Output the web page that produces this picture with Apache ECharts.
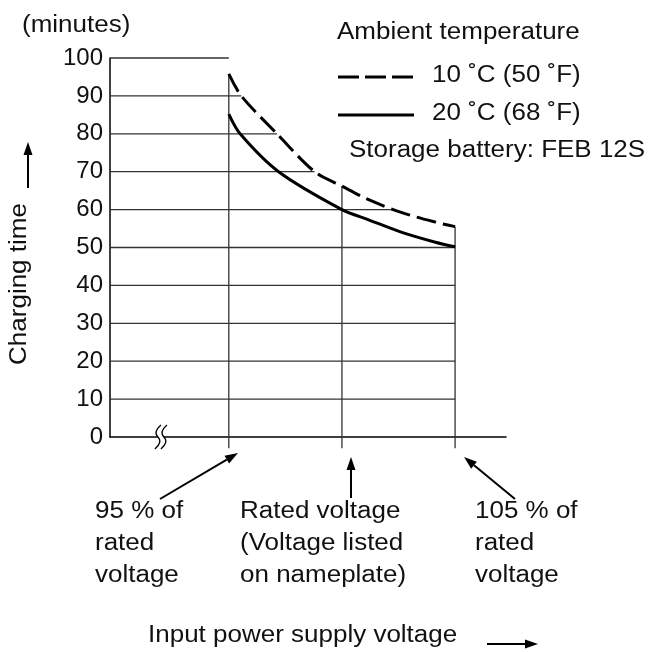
<!DOCTYPE html>
<html><head><meta charset="utf-8">
<script src="https://cdn.jsdelivr.net/npm/echarts@6/dist/echarts.min.js"></script>
<style>html,body{margin:0;padding:0;background:#fff}#c{width:654px;height:652px}</style>
</head><body><div id="c"></div>
<script>
// ---- data ----
const yTicks = [0, 10, 20, 30, 40, 50, 60, 70, 80, 90, 100];
const xMarks = [95, 100, 105];               // % of rated voltage
const dashed10C = [[95, 95.8], [95.55, 90], [97.13, 80], [98.79, 70], [100, 66.2], [101.18, 62.6], [102.65, 59.2], [104.13, 56.7], [105, 55.5]];
const solid20C = [[95, 85.2], [95.5, 80], [97.2, 70], [100, 60], [101.18, 57.3], [102.65, 54.0], [104.13, 51.4], [105, 50.2]];
const xBreak = 92;

const X_MIN = 89.75, X_MAX = 107.25;
const FONT = '"Liberation Sans", Arial, Helvetica, sans-serif';
const FS = 23, SX = 1.13;

function dashedAt(x) {
  for (let i = 0; i < dashed10C.length - 1; i++) {
    const a = dashed10C[i], b = dashed10C[i + 1];
    if (x >= a[0] && x <= b[0]) return a[1] + (b[1] - a[1]) * (x - a[0]) / (b[0] - a[0]);
  }
  return x < dashed10C[0][0] ? dashed10C[0][1] : dashed10C[dashed10C.length - 1][1];
}
function gridEnd(v) {
  const first = dashed10C[0], last = dashed10C[dashed10C.length - 1];
  if (v >= first[1]) return first[0];
  if (v <= last[1]) return last[0];
  for (let i = 0; i < dashed10C.length - 1; i++) {
    const a = dashed10C[i], b = dashed10C[i + 1];
    if (v <= a[1] && v >= b[1]) return a[0] + (b[0] - a[0]) * (a[1] - v) / (a[1] - b[1]);
  }
  return last[0];
}

const gridData = yTicks.filter(v => v > 0).map(v => [gridEnd(v), v]);
const vData = xMarks.map(x => [x, dashedAt(x)]);

function arrow(x1, y1, x2, y2) {
  const ang = Math.atan2(y2 - y1, x2 - x1);
  const L = 13, W = 4.5;
  const bx = x2 - L * Math.cos(ang), by = y2 - L * Math.sin(ang);
  const nx = -Math.sin(ang) * W, ny = Math.cos(ang) * W;
  return [
    { type: 'line', shape: { x1: x1, y1: y1, x2: bx, y2: by }, style: { stroke: '#000', lineWidth: 2 } },
    { type: 'polygon', shape: { points: [[x2, y2], [bx + nx, by + ny], [bx - nx, by - ny]] }, style: { fill: '#000' } }
  ];
}
function txt(x, y, s, extra, props) {
  return Object.assign({ type: 'text', x: x, y: y, scaleX: SX,
    style: Object.assign({ text: s, font: FS + 'px ' + FONT, fill: '#111', textVerticalAlign: 'middle', textAlign: 'left' }, extra || {}) }, props || {});
}

const chart = echarts.init(document.getElementById('c'), null, { renderer: 'canvas' });
chart.setOption({
  animation: false,
  backgroundColor: '#fff',
  grid: { left: 110, right: 148, top: 58, bottom: 215 },
  xAxis: {
    type: 'value', min: X_MIN, max: X_MAX,
    axisLine: { show: true, lineStyle: { color: '#000', width: 1.5 } },
    axisTick: { show: false }, axisLabel: { show: false }, splitLine: { show: false }
  },
  yAxis: {
    type: 'value', min: 0, max: 100, interval: 10,
    axisLine: { show: true, lineStyle: { color: '#000', width: 1.5 } },
    axisTick: { show: false }, splitLine: { show: false },
    axisLabel: { fontFamily: FONT, fontSize: 24, color: '#111', margin: 7 }
  },
  series: [
    {
      type: 'custom', name: 'grid', clip: false, z: 1,
      data: gridData,
      renderItem: function (params, api) {
        const p1 = api.coord([X_MIN, api.value(1)]);
        const p2 = api.coord([api.value(0), api.value(1)]);
        return { type: 'line', shape: { x1: p1[0], y1: p1[1], x2: p2[0], y2: p2[1] }, style: { stroke: '#333', lineWidth: 1.3 } };
      }
    },
    {
      type: 'custom', name: 'marks', clip: false, z: 1,
      data: vData,
      renderItem: function (params, api) {
        const p1 = api.coord([api.value(0), -3]);
        const p2 = api.coord([api.value(0), api.value(1)]);
        return { type: 'line', shape: { x1: p1[0], y1: p1[1], x2: p2[0], y2: p2[1] }, style: { stroke: '#333', lineWidth: 1.3 } };
      }
    },
    {
      type: 'custom', name: 'break', clip: false, z: 5,
      data: [[xBreak, 0]],
      renderItem: function (params, api) {
        const c = api.coord([api.value(0), api.value(1)]);
        const cx = c[0], cy = c[1];
        function s(dx) {
          const x = cx + dx;
          return { type: 'path', shape: { pathData: 'M' + (x + 3) + ' ' + (cy - 12) + ' Q' + (x - 5) + ' ' + (cy - 5) + ' ' + x + ' ' + cy + ' Q' + (x + 5) + ' ' + (cy + 5) + ' ' + (x - 3) + ' ' + (cy + 12) },
            style: { stroke: '#000', lineWidth: 1.3, fill: null } };
        }
        return { type: 'group', children: [
          { type: 'rect', shape: { x: cx - 3, y: cy - 3, width: 6, height: 6 }, style: { fill: '#fff' } },
          s(-3), s(3)
        ] };
      }
    },
    {
      type: 'line', name: '10 ˚C (50 ˚F)', data: dashed10C, smooth: 0.3,
      showSymbol: false, z: 3,
      lineStyle: { color: '#000', width: 3, type: [20, 7] }
    },
    {
      type: 'line', name: '20 ˚C (68 ˚F)', data: solid20C, smooth: 0.3,
      showSymbol: false, z: 3,
      lineStyle: { color: '#000', width: 3 }
    }
  ],
  graphic: [].concat(
    [
      txt(22, 26, '(minutes)'),
      txt(337, 33, 'Ambient temperature'),
      { type: 'line', shape: { x1: 338, y1: 77, x2: 414, y2: 77 }, style: { stroke: '#000', lineWidth: 3, lineDash: [21, 6] } },
      txt(432, 76, '10 ˚C (50 ˚F)'),
      { type: 'line', shape: { x1: 338, y1: 115, x2: 414, y2: 115 }, style: { stroke: '#000', lineWidth: 3 } },
      txt(432, 114, '20 ˚C (68 ˚F)'),
      txt(349, 151, 'Storage battery: FEB 12S'),
      txt(20, 284, 'Charging time', { textAlign: 'center' }, { rotation: Math.PI / 2 }),
      txt(95, 496, '95 % of\nrated\nvoltage', { textVerticalAlign: 'top', lineHeight: 32 }),
      txt(240, 496, 'Rated voltage\n(Voltage listed\non nameplate)', { textVerticalAlign: 'top', lineHeight: 32 }),
      txt(475, 496, '105 % of\nrated\nvoltage', { textVerticalAlign: 'top', lineHeight: 32 }),
      txt(148, 636, 'Input power supply voltage')
    ],
    arrow(28, 188, 28, 142),
    arrow(160, 499, 238, 453),
    arrow(351, 498, 351, 457),
    arrow(515, 499, 464, 457),
    arrow(487, 644, 538, 644)
  )
});
</script>
</body></html>
